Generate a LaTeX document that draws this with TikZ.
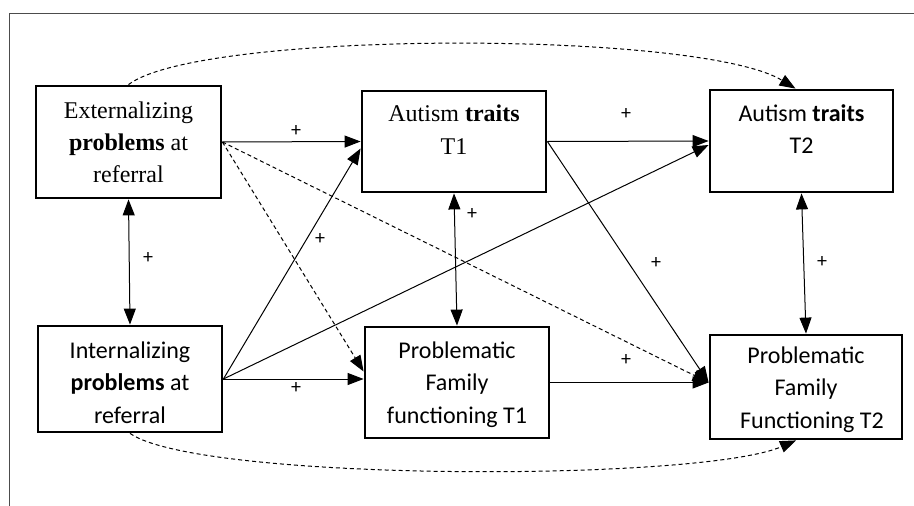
\documentclass[tikz,border=0pt]{standalone}
\usepackage{fontspec}
\setmainfont{Liberation Serif}
\newfontfamily\calib{Carlito}
\usetikzlibrary{arrows.meta}

\begin{document}
\begin{tikzpicture}[x=1pt,y=-1pt,
  box/.style={draw,line width=2.8pt,align=center,inner sep=0pt},
  serifbox/.style={box,font=\fontsize{24}{32}\selectfont},
  sansbox/.style={box,font=\calib\fontsize{24}{32.5}\selectfont},
  link/.style={line width=1pt,-{Triangle[length=16pt,width=12pt]}},
  both/.style={line width=1pt,{Triangle[length=16pt,width=12pt]}-{Triangle[length=16pt,width=12pt]}},
  dashlink/.style={link,dash pattern=on 4pt off 3pt},
  plus/.style={font=\calib\fontsize{20}{20}\selectfont}]
\useasboundingbox (0,0) rectangle (914,506);

% Frame
\draw[black!70,line width=1pt] (9,506) -- (9,13) -- (914,13);

% Predictors at referral
\node[serifbox,minimum width=185,minimum height=112] (ext) at (128.5,142) {Externalizing\\\textbf{problems} at\\referral};
\node[sansbox,minimum width=184,minimum height=106] (int) at (130,379) {Internalizing\\\textbf{problems} at\\referral\\[-39.5pt]\mbox{}};

% Outcomes T1 and T2
\node[serifbox,minimum width=184,minimum height=101] (at1) at (454,141.5) {Autism \textbf{traits}\\[1pt]T1\\[-8.5pt]\mbox{}};
\node[sansbox,minimum width=183,minimum height=102] (at2) at (801.5,141) {Autism \textbf{traits}\\T2\\[-8.5pt]\mbox{}};
\node[sansbox,minimum width=184,minimum height=111] (pf1) at (457,382.5) {Problematic\\Family\\functioning T1\\[-32pt]\mbox{}};
\node[sansbox,minimum width=192,minimum height=104] (pf2) at (806,387) {Problematic\\Family\\\hspace*{12pt}Functioning T2\\[-33pt]\mbox{}};

% Paths
\draw[link] (ext.east) -- (at1.west);
\draw[link] (int.east) -- ([yshift=-7]at1.west);
\draw[link] (int.east) -- ([yshift=-4]at2.west);
\draw[link] (int.east) -- (int.east -| pf1.west);
\draw[dashlink] (ext.east) -- ([yshift=11]pf1.west);
\draw[dashlink] (ext.east) -- (pf2.west |- pf1.east);
\draw[link] (at1.east) -- (at2.west);
\draw[link] (at1.east) -- (pf2.west |- pf1.east);
\draw[link] (pf1.east) -- (pf1.east -| pf2.west);

% Correlations
\draw[both] (ext.south) -- (int.north);
\draw[both] (at1.south) -- (pf1.north);
\draw[both] (at2.south) -- (pf2.north);

% Stability paths
\draw[dashlink] (ext.north) .. controls (200,30) and (700,30) .. ([xshift=-6]at2.north);
\draw[dashlink] (int.south) .. controls (200,482) and (700,482) .. ([xshift=-10]pf2.south);

% Signs
\node[plus] (s1) at (296,131) {+};
\node[plus] (s2) at (148,258) {+};
\node[plus] (s3) at (320,239) {+};
\node[plus] (s4) at (296,388) {+};
\node[plus] (s5) at (472,214) {+};
\node[plus] (s6) at (626,114) {+};
\node[plus] (s7) at (656,263) {+};
\node[plus] (s8) at (626,360) {+};
\node[plus] (s9) at (822,262) {+};
\end{tikzpicture}
\end{document}
